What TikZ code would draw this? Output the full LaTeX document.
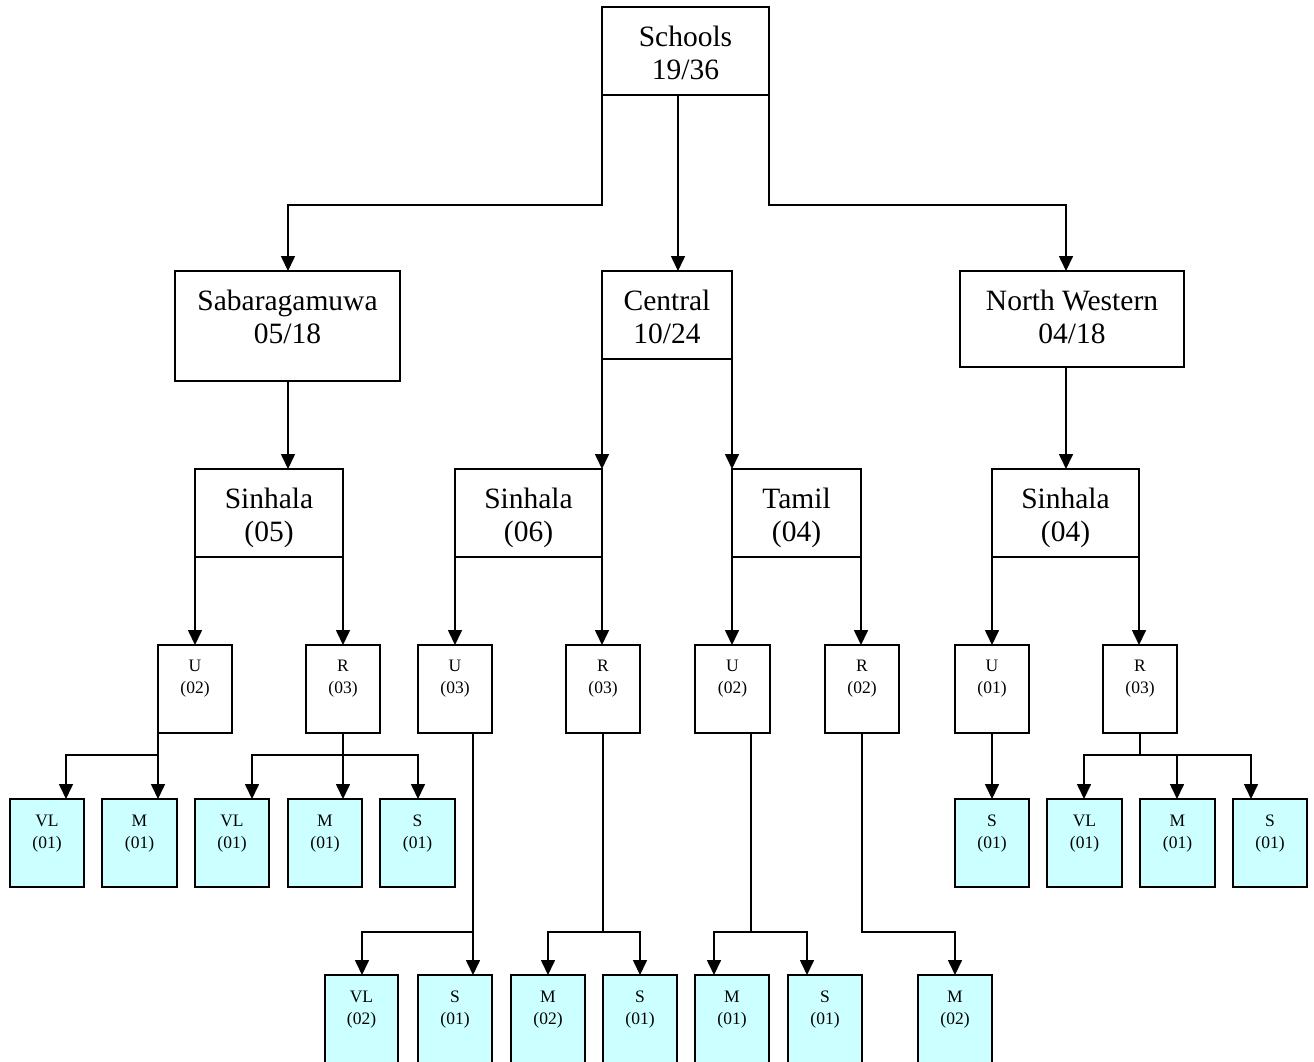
\documentclass[tikz,border=0pt]{standalone}
\usepackage{fontspec}
\setmainfont{Liberation Serif}
\usetikzlibrary{arrows.meta,calc}
\definecolor{leafc}{HTML}{CCFFFF}
\newcommand\mkbox[6]{%
  \node[#1, minimum width={#5-#3}, minimum height={#6-#4}] (#2) at ({(#3+#5)/2},{(#4+#6)/2}) {};}
\begin{document}
\begin{tikzpicture}[x=1pt,y=-1pt,
  box/.style={draw, line width=1.6pt, inner sep=0pt, outer sep=0pt, fill=white},
  leaf/.style={box, fill=leafc},
  bigt/.style={anchor=north, inner sep=0pt, align=center, font=\fontsize{29.5}{33}\selectfont},
  smallt/.style={anchor=north, inner sep=0pt, align=center, font=\fontsize{17.5}{22}\selectfont},
  arr/.style={line width=1.6pt, -{Triangle[width=14pt,length=15pt]}},
  ln/.style={line width=1.6pt}]
\clip (0,0) rectangle (1314,1061);
\fill[white] (0,0) rectangle (1314,1061);
% level 0-2
\mkbox{box}{sch}{602}{7}{769}{95}
\mkbox{box}{sab}{175}{271}{400}{381}
\mkbox{box}{cen}{602}{271}{732}{359}
\mkbox{box}{nw}{960}{271}{1184}{367}
\mkbox{box}{sa5}{195}{469}{343}{557}
\mkbox{box}{ce6}{455}{469}{602}{557}
\mkbox{box}{tam}{732}{469}{861}{557}
\mkbox{box}{nw4}{992}{469}{1139}{557}
\node[bigt] (sch-t) at ([yshift=-18.5pt]sch.north) {Schools\\19/36};
\node[bigt] (sab-t) at ([yshift=-18.5pt]sab.north) {Sabaragamuwa\\05/18};
\node[bigt] (cen-t) at ([yshift=-18.5pt]cen.north) {Central\\10/24};
\node[bigt] (nw-t) at ([yshift=-18.5pt]nw.north) {North Western\\04/18};
\node[bigt] (sa5-t) at ([yshift=-18.5pt]sa5.north) {Sinhala\\(05)};
\node[bigt] (ce6-t) at ([yshift=-18.5pt]ce6.north) {Sinhala\\(06)};
\node[bigt] (tam-t) at ([yshift=-18.5pt]tam.north) {Tamil\\(04)};
\node[bigt] (nw4-t) at ([yshift=-18.5pt]nw4.north) {Sinhala\\(04)};
% level 3
\mkbox{box}{u1}{158}{645}{232}{733}
\mkbox{box}{r1}{306}{645}{380}{733}
\mkbox{box}{u2}{418}{645}{492}{733}
\mkbox{box}{r2}{566}{645}{640}{733}
\mkbox{box}{u3}{695}{645}{770}{733}
\mkbox{box}{r3}{825}{645}{899}{733}
\mkbox{box}{u4}{955}{645}{1029}{733}
\mkbox{box}{r4}{1103}{645}{1177}{733}
\node[smallt] (u1-t) at ([yshift=-15pt]u1.north) {U\\(02)};
\node[smallt] (r1-t) at ([yshift=-15pt]r1.north) {R\\(03)};
\node[smallt] (u2-t) at ([yshift=-15pt]u2.north) {U\\(03)};
\node[smallt] (r2-t) at ([yshift=-15pt]r2.north) {R\\(03)};
\node[smallt] (u3-t) at ([yshift=-15pt]u3.north) {U\\(02)};
\node[smallt] (r3-t) at ([yshift=-15pt]r3.north) {R\\(02)};
\node[smallt] (u4-t) at ([yshift=-15pt]u4.north) {U\\(01)};
\node[smallt] (r4-t) at ([yshift=-15pt]r4.north) {R\\(03)};
% leaves row 1
\mkbox{leaf}{a1}{10}{799}{84}{887}
\mkbox{leaf}{a2}{102}{799}{177}{887}
\mkbox{leaf}{a3}{195}{799}{269}{887}
\mkbox{leaf}{a4}{288}{799}{362}{887}
\mkbox{leaf}{a5}{380}{799}{455}{887}
\mkbox{leaf}{a6}{955}{799}{1029}{887}
\mkbox{leaf}{a7}{1047}{799}{1122}{887}
\mkbox{leaf}{a8}{1140}{799}{1215}{887}
\mkbox{leaf}{a9}{1233}{799}{1307}{887}
\node[smallt] (a1-t) at ([yshift=-16pt]a1.north) {VL\\(01)};
\node[smallt] (a2-t) at ([yshift=-16pt]a2.north) {M\\(01)};
\node[smallt] (a3-t) at ([yshift=-16pt]a3.north) {VL\\(01)};
\node[smallt] (a4-t) at ([yshift=-16pt]a4.north) {M\\(01)};
\node[smallt] (a5-t) at ([yshift=-16pt]a5.north) {S\\(01)};
\node[smallt] (a6-t) at ([yshift=-16pt]a6.north) {S\\(01)};
\node[smallt] (a7-t) at ([yshift=-16pt]a7.north) {VL\\(01)};
\node[smallt] (a8-t) at ([yshift=-16pt]a8.north) {M\\(01)};
\node[smallt] (a9-t) at ([yshift=-16pt]a9.north) {S\\(01)};
% leaves row 2
\mkbox{leaf}{b1}{325}{975}{398}{1075}
\mkbox{leaf}{b2}{418}{975}{492}{1075}
\mkbox{leaf}{b3}{511}{975}{585}{1075}
\mkbox{leaf}{b4}{603}{975}{677}{1075}
\mkbox{leaf}{b5}{695}{975}{769}{1075}
\mkbox{leaf}{b6}{788}{975}{862}{1075}
\mkbox{leaf}{b7}{918}{975}{992}{1075}
\node[smallt] (b1-t) at ([yshift=-16pt]b1.north) {VL\\(02)};
\node[smallt] (b2-t) at ([yshift=-16pt]b2.north) {S\\(01)};
\node[smallt] (b3-t) at ([yshift=-16pt]b3.north) {M\\(02)};
\node[smallt] (b4-t) at ([yshift=-16pt]b4.north) {S\\(01)};
\node[smallt] (b5-t) at ([yshift=-16pt]b5.north) {M\\(01)};
\node[smallt] (b6-t) at ([yshift=-16pt]b6.north) {S\\(01)};
\node[smallt] (b7-t) at ([yshift=-16pt]b7.north) {M\\(02)};
% connectors level 0 -> 1
\draw[arr] (sch.south west) -- ++(0,110) -| ([xshift=0.5pt]sab.north);
\draw[arr] ([xshift=-7.5pt]sch.south) -- ([xshift=-7.5pt]sch.south |- cen.north);
\draw[arr] (sch.south east) -- ++(0,110) -| ([xshift=-6pt]nw.north);
% level 1 -> 2
\draw[arr] ([xshift=0.5pt]sab.south) -- ([xshift=0.5pt]sab.south |- sa5.north);
\draw[arr] (cen.south west) -- (cen.south west |- ce6.north);
\draw[arr] (cen.south east) -- (cen.south east |- tam.north);
\draw[arr] ([xshift=0.5pt]nw4.north |- nw.south) -- ([xshift=0.5pt]nw4.north);
% level 2 -> 3
\draw[arr] (sa5.south west) -- (sa5.south west |- u1.north);
\draw[arr] (sa5.south east) -- (sa5.south east |- r1.north);
\draw[arr] (ce6.south west) -- (ce6.south west |- u2.north);
\draw[arr] (ce6.south east) -- (ce6.south east |- r2.north);
\draw[arr] (tam.south west) -- (tam.south west |- u3.north);
\draw[arr] (tam.south east) -- (tam.south east |- r3.north);
\draw[arr] (nw4.south west) -- (nw4.south west |- u4.north);
\draw[arr] (nw4.south east) -- (nw4.south east |- r4.north);
% level 3 -> leaves row 1
\coordinate (j1) at ($(u1.south west)+(0,22)$);
\draw[arr] (u1.south west) -- (u1.south west |- a2.north);
\draw[arr] (j1) -| ([xshift=19pt]a1.north);
\coordinate (j2) at ($(r1.south)+(0,22)$);
\draw[ln] (r1.south) -- (j2);
\draw[arr] (j2) -| ([xshift=20pt]a3.north);
\draw[arr] (j2) -- (j2 |- a4.north);
\draw[arr] (j2) -| ([xshift=0.5pt]a5.north);
\draw[arr] (u4.south) -- (u4.south |- a6.north);
\coordinate (j3) at ($(r4.south)+(0,22)$);
\draw[ln] (r4.south) -- (j3);
\draw[arr] (j3) -| ([xshift=-0.5pt]a7.north);
\draw[arr] (j3) -| ([xshift=-0.5pt]a8.north);
\draw[arr] (j3) -| ([xshift=-19pt]a9.north);
% level 3 -> leaves row 2
\coordinate (k1s) at ($(u2.south east)+(-19,0)$);
\coordinate (k1) at ($(k1s)+(0,199)$);
\draw[arr] (k1s) -- (k1s |- b2.north);
\draw[arr] (k1) -| ([xshift=0.5pt]b1.north);
\coordinate (k2) at ($(r2.south)+(0,199)$);
\draw[ln] (r2.south) -- (k2);
\draw[arr] (k2) -| (b3.north);
\draw[arr] (k2) -| (b4.north);
\coordinate (k3s) at ($(u3.south east)+(-19,0)$);
\coordinate (k3) at ($(k3s)+(0,199)$);
\draw[ln] (k3s) -- (k3);
\draw[arr] (k3) -| ([xshift=-18pt]b5.north);
\draw[arr] (k3) -| ([xshift=-18pt]b6.north);
\draw[arr] (r3.south) -- ++(0,199) -| (b7.north);
\end{tikzpicture}
\end{document}
